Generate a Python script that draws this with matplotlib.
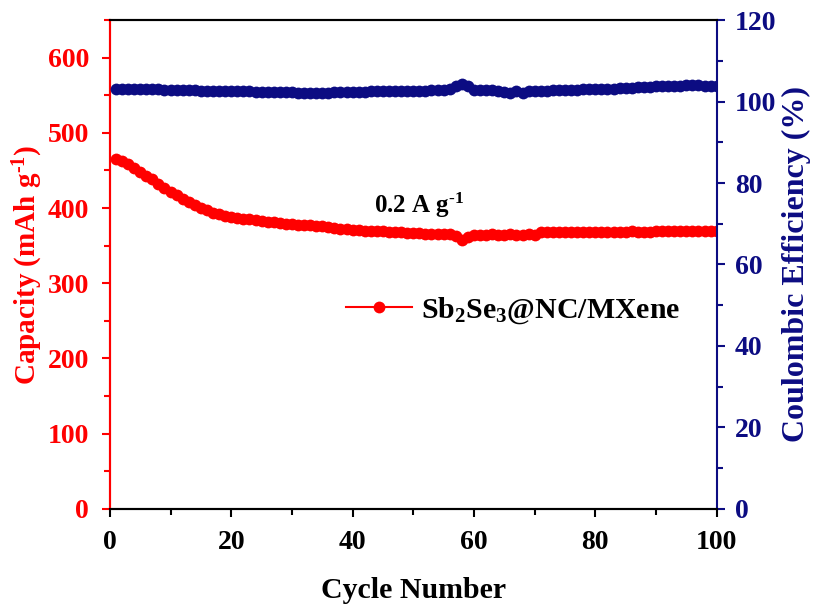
import numpy as np
import matplotlib
matplotlib.use('Agg')
import matplotlib.pyplot as plt
from matplotlib.ticker import MultipleLocator

plt.rcParams['font.family'] = 'Liberation Serif'
plt.rcParams['font.weight'] = 'bold'
plt.rcParams['mathtext.fontset'] = 'custom'
plt.rcParams['mathtext.rm'] = 'Liberation Serif:bold'
plt.rcParams['mathtext.bf'] = 'Liberation Serif:bold'
plt.rcParams['mathtext.default'] = 'bf'

RED = '#FF0000'
NAVY = '#0c0c82'

# Дані
cycles = np.arange(1, 101)
capacity = [465, 462, 458, 453, 448, 443, 438, 432, 427, 422,
            417, 412, 408, 404, 400, 397, 394, 392, 390, 388,
            387, 386, 385, 384, 383, 382, 381, 380, 379, 379,
            378, 377, 377, 376, 376, 375, 373, 372, 372, 371,
            371, 370, 370, 369, 369, 368, 368, 368, 367, 367,
            367, 366, 366, 366, 365, 365, 363, 358, 362, 364,
            364, 364, 365, 364, 364, 365, 364, 364, 365, 364,
            368, 368, 368, 368, 368, 368, 368, 368, 368, 368,
            368, 368, 368, 368, 368, 369, 368, 368, 368, 369,
            369, 369, 369, 369, 369, 369, 369, 369, 369, 369]
efficiency = [103.2, 103.2, 103.1, 103.1, 103.1, 103.0, 103.0, 103.0, 102.9, 102.9,
              102.9, 102.8, 102.8, 102.8, 102.7, 102.7, 102.7, 102.6, 102.6, 102.6,
              102.5, 102.5, 102.5, 102.4, 102.4, 102.4, 102.3, 102.3, 102.3, 102.3,
              102.2, 102.2, 102.2, 102.2, 102.2, 102.2, 102.3, 102.3, 102.3, 102.4,
              102.4, 102.4, 102.5, 102.5, 102.5, 102.5, 102.6, 102.6, 102.6, 102.7,
              102.7, 102.7, 102.8, 102.8, 102.9, 103.0, 103.8, 104.4, 103.9, 102.9,
              102.8, 102.8, 102.8, 102.7, 102.4, 102.1, 102.6, 102.2, 102.5, 102.7,
              102.7, 102.7, 102.8, 102.8, 102.8, 102.9, 102.9, 103.0, 103.0, 103.1,
              103.1, 103.2, 103.2, 103.3, 103.3, 103.4, 103.5, 103.5, 103.6, 103.7,
              103.7, 103.8, 103.9, 103.9, 104.0, 104.0, 104.0, 103.9, 103.9, 103.9]

fig = plt.figure(figsize=(8.2, 6.08), dpi=100)
ax = fig.add_axes([0.134, 0.163, 0.740, 0.804])
ax2 = ax.twinx()

ax.plot(cycles, capacity, color=RED, marker='o', markersize=8.5, markeredgewidth=0,
        linewidth=1.5, label=r'Sb$_2$Se$_3$@NC/MXene', zorder=3)
ax2.plot(cycles, efficiency, color=NAVY, marker='o', markersize=8.5, markeredgewidth=0,
         linewidth=1.5, zorder=3)

ax.set_xlim(0, 100)
ax.set_ylim(0, 650)
ax2.set_ylim(0, 120)

ax.xaxis.set_major_locator(MultipleLocator(20))
ax.xaxis.set_minor_locator(MultipleLocator(10))
ax.yaxis.set_major_locator(MultipleLocator(100))
ax.yaxis.set_minor_locator(MultipleLocator(50))
ax2.yaxis.set_major_locator(MultipleLocator(20))
ax2.yaxis.set_minor_locator(MultipleLocator(10))

for a in (ax, ax2):
    for s in a.spines.values():
        s.set_linewidth(1.5)
ax.spines['left'].set_color(RED)
ax2.spines['left'].set_color(RED)
ax2.spines['right'].set_color(NAVY)
ax.spines['right'].set_visible(False)

ax.tick_params(axis='x', which='both', direction='out', top=False, width=1.5,
               labelsize=20, colors='black', pad=9)
ax.tick_params(axis='x', which='major', length=6)
ax.tick_params(axis='x', which='minor', length=4)
ax.tick_params(axis='y', which='both', direction='out', width=1.5, colors=RED,
               labelsize=20, pad=9)
ax.tick_params(axis='y', which='major', length=6)
ax.tick_params(axis='y', which='minor', length=4)
ax2.tick_params(axis='y', which='both', direction='out', width=1.5, colors=NAVY,
                labelsize=20, pad=7)
ax2.tick_params(axis='y', which='major', length=6)
ax2.tick_params(axis='y', which='minor', length=4)

ax.set_xlabel('Cycle Number', fontsize=21.5, fontweight='bold', labelpad=16)
ax.set_ylabel(r'Capacity (mAh g$^{\text{-1}}$)', fontsize=21, fontweight='bold', color=RED, labelpad=2)
ax2.set_ylabel('Coulombic Efficiency (%)', fontsize=23, fontweight='bold', color=NAVY, labelpad=4)

ax.text(51, 404, r'0.2 A g$^{\text{-1}}$', fontsize=18, fontweight='bold', ha='center', va='center')

leg = ax.legend(loc='center left', bbox_to_anchor=(0.345, 0.405), frameon=False,
                fontsize=21.5, handlelength=2.2, handletextpad=0.3)

fig.savefig('out.png', dpi=100)
